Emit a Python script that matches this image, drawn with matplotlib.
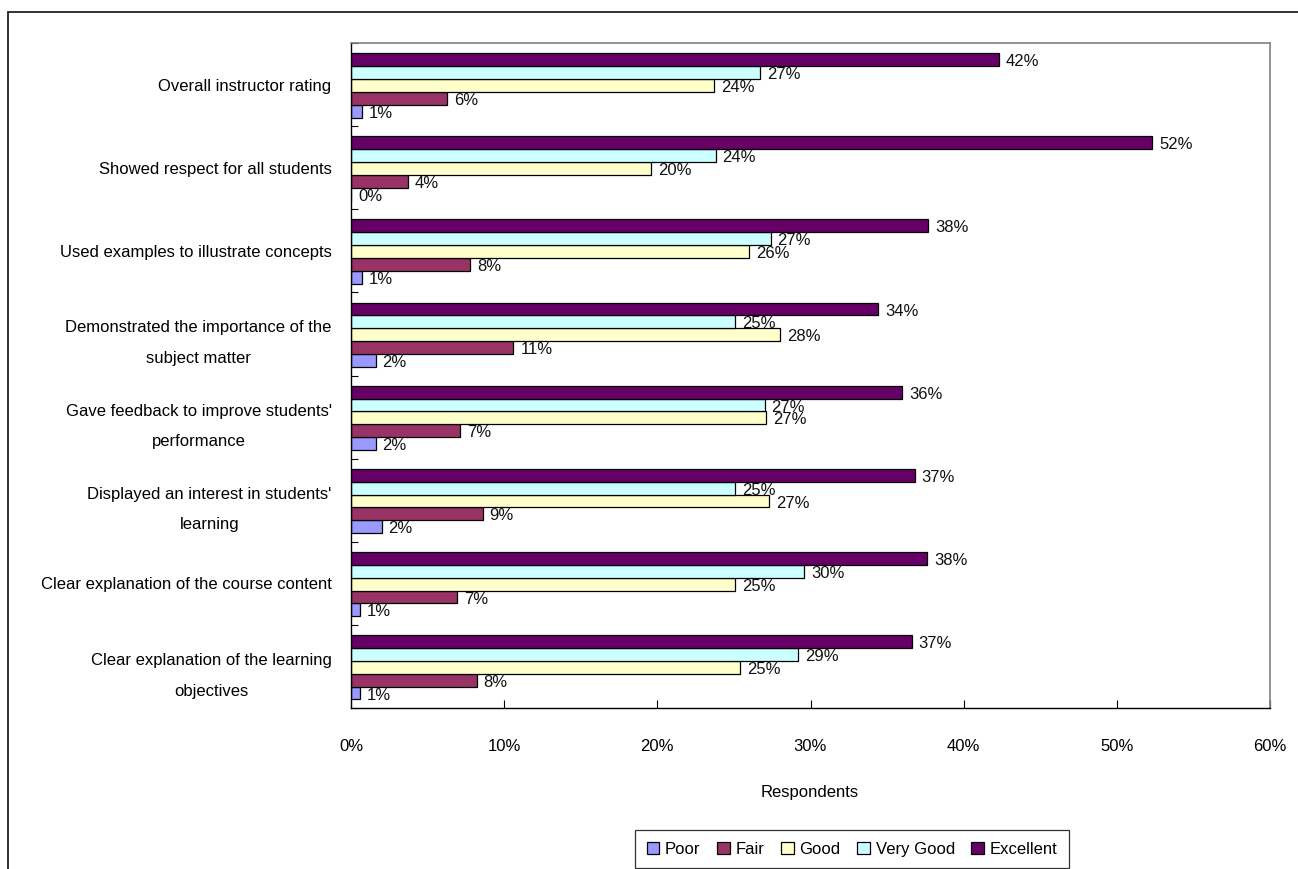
import matplotlib
matplotlib.use("Agg")
import matplotlib.pyplot as plt
from matplotlib.patches import Rectangle
from matplotlib.ticker import FuncFormatter, MultipleLocator

plt.rcParams['font.family'] = ['Liberation Sans', 'DejaVu Sans']
plt.rcParams['font.size'] = 12

# Categories listed top to bottom as in the chart
categories = [
    "Overall instructor rating",
    "Showed respect for all students",
    "Used examples to illustrate concepts",
    "Demonstrated the importance of the\nsubject matter",
    "Gave feedback to improve students'\nperformance",
    "Displayed an interest in students'\nlearning",
    "Clear explanation of the course content",
    "Clear explanation of the learning\nobjectives",
]
series_names = ["Poor", "Fair", "Good", "Very Good", "Excellent"]
colors = ["#9999FF", "#993366", "#FFFFCC", "#CCFFFF", "#660066"]

poor      = [0.7, 0.0, 0.7, 1.6, 1.6, 2.0, 0.6, 0.6]
fair      = [6.3, 3.7, 7.8, 10.6, 7.1, 8.6, 6.9, 8.2]
good      = [23.7, 19.6, 26.0, 28.0, 27.1, 27.3, 25.1, 25.4]
very_good = [26.7, 23.8, 27.4, 25.1, 27.0, 25.1, 29.6, 29.2]
excellent = [42.3, 52.3, 37.7, 34.4, 36.0, 36.8, 37.6, 36.6]
series = [poor, fair, good, very_good, excellent]

W, H = 1298, 869
fig = plt.figure(figsize=(W / 100, H / 100), dpi=100)
ax = fig.add_axes([351 / W, 1 - 708 / H, (1270 - 351) / W, (708 - 43) / H])

n = len(categories)
centers = [n - 1 - i for i in range(n)]  # first category at top
bh = 0.155
offsets = [-2 * bh, -bh, 0, bh, 2 * bh]

for vals, name, col, off in zip(series, series_names, colors, offsets):
    ys = [c + off - 0.01 for c in centers]
    ax.barh(ys, vals, height=bh, color=col, edgecolor="black",
            linewidth=0.9, label=name)
    for y, v in zip(ys, vals):
        ax.annotate(f"{int(round(v))}%", xy=(v, y), xytext=(5, -1.5),
                    textcoords="offset points", ha="left", va="center",
                    fontsize=12, color="#111111")

ax.set_xlim(0, 60)
ax.set_ylim(-0.5, n - 0.5)
ax.xaxis.set_major_locator(MultipleLocator(10))
ax.xaxis.set_major_formatter(FuncFormatter(lambda x, p: f"{int(x)}%"))
ax.tick_params(axis="x", direction="in", length=6, width=0.8, pad=22,
               labelsize=12, colors="black")

# y ticks: boundaries (in), labels at centers
ax.set_yticks([i - 0.5 for i in range(n + 1)])
ax.set_yticklabels([])
ax.tick_params(axis="y", which="major", direction="in", length=5, width=0.8)
ax.set_yticks(centers, minor=True)
ax.set_yticklabels(categories, minor=True, multialignment="center",
                   linespacing=2.3, fontsize=12)
ax.tick_params(axis="y", which="minor", length=0, pad=14)

for side in ["left", "bottom"]:
    ax.spines[side].set_color("black")
    ax.spines[side].set_linewidth(1.0)
for side in ["top", "right"]:
    ax.spines[side].set_color("#808080")
    ax.spines[side].set_linewidth(1.2)

fig.text(810 / W, 1 - 792 / H, "Respondents", ha="center", va="center", fontsize=12)

leg = fig.legend(loc="upper left", bbox_to_anchor=(635 / W, 1 - 830 / H),
                 ncol=5, frameon=True, fancybox=False, shadow=False,
                 borderaxespad=0.0,
                 handlelength=0.75, handleheight=0.75, handletextpad=0.35,
                 columnspacing=1.0, borderpad=0.7, fontsize=12)
leg.get_frame().set_edgecolor("black")
leg.get_frame().set_linewidth(0.9)

# outer chart border (right/bottom run off the image)
fig.patches.append(Rectangle((8 / W, -0.1), 1.2, (1 - 12 / H) + 0.1,
                             transform=fig.transFigure, fill=False,
                             edgecolor="#222222", linewidth=1.3, clip_on=False))

fig.savefig("out.png", dpi=100)
